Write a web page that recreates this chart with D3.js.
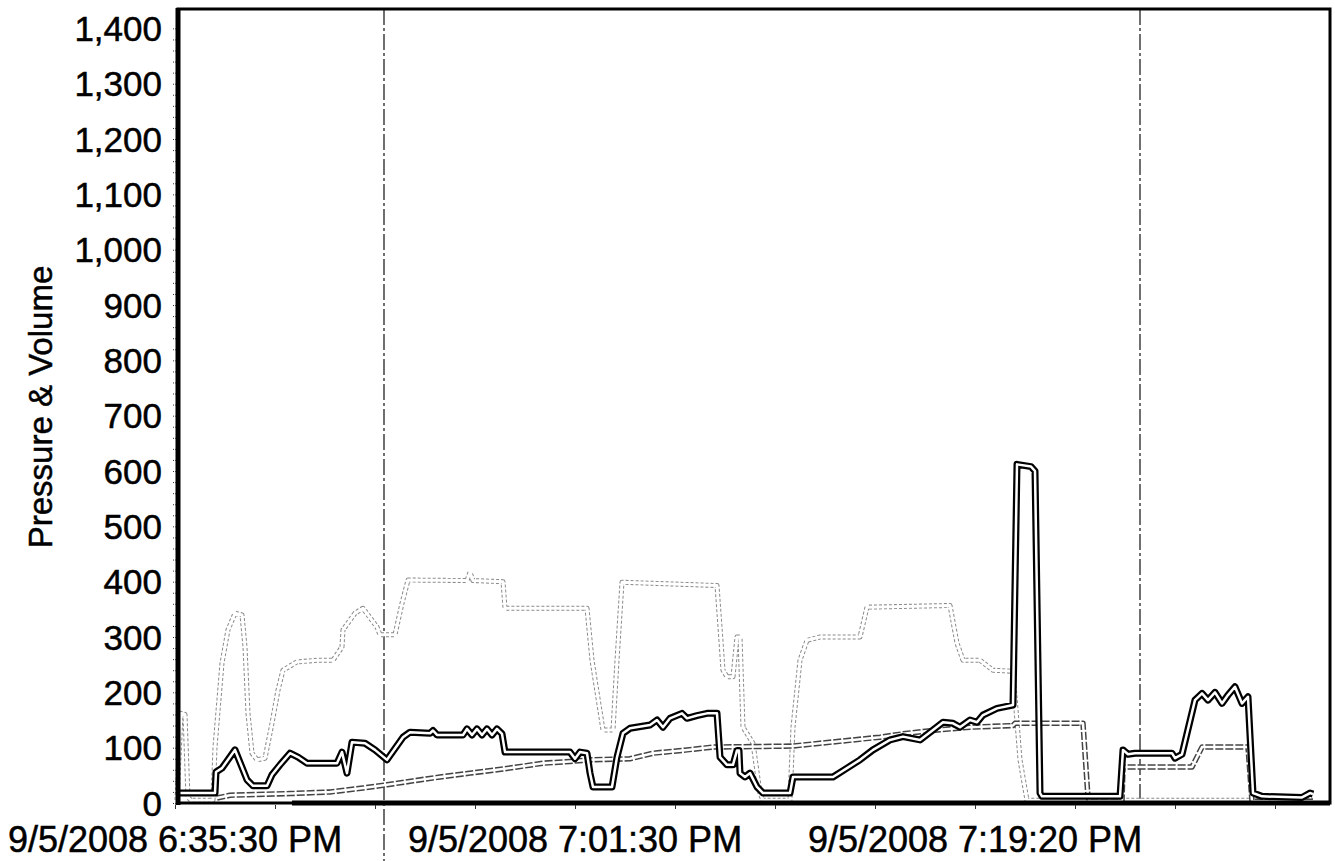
<!DOCTYPE html>
<html>
<head>
<meta charset="utf-8">
<script src="https://cdn.jsdelivr.net/npm/d3@7"></script>
<style>
  body { margin: 0; background: #fff; }
  svg { display: block; }
  text { font-family: "Liberation Sans", Arial, sans-serif; fill: #000; stroke: #000; stroke-width: 0.5px; }
</style>
</head>
<body>
<div id="chart"></div>
<script>
var width = 1335;
var height = 861;

// sample index along the recording (axis is not linear in clock time)
var timeLabels = ["9/5/2008 6:35:30 PM", "9/5/2008 7:01:30 PM", "9/5/2008 7:19:20 PM"];
var timeLabelAt = [0, 40, 80];
var yTicks = [0, 100, 200, 300, 400, 500, 600, 700, 800, 900, 1000, 1100, 1200, 1300, 1400];
var eventMarks = [20.9, 96.5];

// dark pressure trace [sample, value]
var pressure = [[0.3,18],[4.0,18],[4.1,56],[4.7,63],[6.0,96],[7.2,42],[7.8,31],[9.2,31],[9.7,51],
  [10.5,69],[11.5,90],[12.3,83],[13.2,72],[16.2,72],[16.7,92],[17.2,54],[17.7,110],[19.0,108],
  [20.0,96],[21.2,78],[22.8,119],[23.5,128],[25.5,126],[25.8,131],[26.2,123],[28.8,123],[29.2,134],
  [29.7,123],[30.2,134],[30.7,123],[31.2,134],[31.7,123],[32.2,134],[32.7,125],[33.0,92],[39.5,92],
  [40.0,80],[40.5,92],[41.2,90],[41.5,54],[41.8,29],[43.7,29],[44.2,83],[44.8,126],[45.5,135],
  [47.5,141],[48.2,150],[48.8,137],[49.5,153],[50.7,162],[51.2,153],[52.2,158],[53.2,162],[54.2,162],
  [54.5,83],[55.2,69],[55.8,69],[56.2,95],[56.4,95],[56.5,54],[57.0,47],[57.5,54],[58.2,29],[58.8,18],
  [61.5,18],[61.8,47],[65.8,47],[67.2,63],[68.5,78],[69.8,96],[71.5,114],[72.8,120],[74.5,114],
  [75.8,132],[76.8,146],[77.8,144],[78.5,137],[79.5,150],[80.2,146],[80.8,159],[82.2,171],[83.8,177],
  [84.2,612],[85.6,608],[86.0,600],[86.5,18],[86.7,12],[94.5,12],[94.8,96],[95.3,88],[96.0,90],
  [99.7,90],[100.0,81],[100.7,88],[102.0,186],[102.7,198],[103.3,186],[104.0,200],[104.7,180],
  [105.3,195],[106.0,210],[106.7,180],[107.3,192],[107.8,18],[108.7,12],[112.7,10],[113.5,18],[113.8,16]];

// light grey trace
var upper = [[0.2,5],[0.6,162],[1.0,160],[1.3,10],[1.6,5],[3.8,5],[4.0,101],[4.7,253],[5.3,313],
  [6.0,343],[6.7,340],[7.0,282],[7.3,162],[7.7,90],[8.2,78],[9.0,81],[9.7,144],[10.3,204],[10.8,240],
  [12.2,255],[14.2,258],[15.8,258],[16.7,282],[16.8,313],[18.0,343],[18.8,352],[20.2,318],[20.5,304],
  [22.0,304],[22.7,361],[23.3,403],[29.2,402],[29.5,417],[29.8,402],[32.8,400],[33.0,352],[41.2,352],
  [41.7,258],[42.8,132],[43.8,132],[44.2,258],[44.7,399],[54.2,393],[54.5,318],[54.8,240],[55.2,228],
  [55.8,228],[56.2,300],[56.5,300],[56.8,137],[57.8,108],[58.5,18],[58.8,5],[61.5,5],[61.8,137],
  [62.5,258],[63.2,294],[64.5,300],[68.5,300],[69.2,354],[77.5,357],[78.2,289],[78.8,258],[80.5,258],
  [81.8,240],[83.8,238],[84.5,78],[85.2,5],[113.8,5]];

// slowly rising grey trace
var ramp = [[4.2,9],[5.5,14],[11.5,17],[15.5,20],[18.8,27],[21.2,33],[23.8,40],[26.5,47],[29.5,54],
  [32.2,60],[34.2,65],[36.8,72],[39.5,75],[41.5,78],[45.5,80],[47.8,90],[51.2,96],[53.8,101],
  [61.8,103],[64.5,108],[67.8,114],[70.5,119],[72.8,125],[76.2,132],[79.5,137],[83.8,140],[84.0,144],
  [90.8,144],[91.3,10],[91.5,4],[94.7,4],[94.8,65],[101.7,65],[102.7,101],[107.3,101],[107.7,3],[113.8,3]];

// flat trace lying on the axis
var baseTrace = [[11.7,0],[115.5,0]];

var x = d3.scaleLinear().domain([0.3, 115.5]).range([178, 1330]);
var y = d3.scaleLinear().domain([0, 1435]).range([803, 9]);

var svg = d3.select("#chart").append("svg")
  .attr("width", width)
  .attr("height", height);

var line = d3.line()
  .x(function(d){ return x(d[0]); })
  .y(function(d){ return y(d[1]); });

//event markers
eventMarks.forEach(function(m, i){
  svg.append("line")
    .attr("x1", x(m)).attr("x2", x(m))
    .attr("y1", y(1435)).attr("y2", i == 0 ? height : y(0))
    .attr("stroke", "#222")
    .attr("stroke-width", 1.3)
    .attr("stroke-dasharray", "16,3,3,3");
});

//cased lines: outer stroke then white core
function drawTrace(data, color, outer, inner, dash) {
  svg.append("path")
    .datum(data)
    .attr("d", line)
    .attr("fill", "none")
    .attr("stroke", color)
    .attr("stroke-width", outer)
    .attr("stroke-linejoin", "round")
    .attr("stroke-dasharray", dash);
  svg.append("path")
    .datum(data)
    .attr("d", line)
    .attr("fill", "none")
    .attr("stroke", "#fff")
    .attr("stroke-width", inner)
    .attr("stroke-linejoin", "round");
}

drawTrace(upper, "#8a8a8a", 5, 3, "3,2");
drawTrace(ramp, "#444", 5.5, 2.5, "8,2");
drawTrace(pressure, "#000", 7, 2.5, null);

svg.append("path")
  .datum(baseTrace)
  .attr("d", line)
  .attr("fill", "none")
  .attr("stroke", "#000")
  .attr("stroke-width", 5);

//frame
svg.append("rect")
  .attr("x", 178).attr("y", 9)
  .attr("width", 1330 - 178).attr("height", 803 - 9)
  .attr("fill", "none")
  .attr("stroke", "#000")
  .attr("stroke-width", 3);
svg.append("line")
  .attr("x1", 178).attr("x2", 178)
  .attr("y1", 8).attr("y2", 805)
  .attr("stroke", "#000")
  .attr("stroke-width", 5);

//y axis
var yAxis = svg.append("g").attr("transform", "translate(176,0)")
  .call(d3.axisLeft(y)
    .tickValues(d3.range(0, 1420, 20))
    .tickSize(4)
    .tickFormat(""));
yAxis.select(".domain").remove();
yAxis.selectAll(".tick line").attr("stroke", "#333").attr("stroke-dasharray", "1,1");

svg.selectAll(".ylab")
  .data(yTicks)
  .enter().append("text")
  .attr("class", "ylab")
  .attr("x", 162)
  .attr("y", function(d){ return y(d); })
  .attr("dy", "0.36em")
  .attr("text-anchor", "end")
  .attr("font-size", 35)
  .text(d3.format(","));

svg.append("text")
  .attr("transform", "translate(52,407) rotate(-90)")
  .attr("text-anchor", "middle")
  .attr("font-size", 33)
  .text("Pressure & Volume");

//x axis
var xAxis = svg.append("g").attr("transform", "translate(0,805)")
  .call(d3.axisBottom(x)
    .tickValues(d3.range(0, 115, 10))
    .tickSize(4)
    .tickFormat(""));
xAxis.select(".domain").remove();
xAxis.selectAll(".tick line").attr("stroke", "#333");

svg.selectAll(".xlab")
  .data(timeLabels)
  .enter().append("text")
  .attr("class", "xlab")
  .attr("x", function(d, i){ return x(timeLabelAt[i]); })
  .attr("y", 852)
  .attr("text-anchor", "middle")
  .attr("font-size", 36)
  .text(function(d){ return d; });
</script>
</body>
</html>
